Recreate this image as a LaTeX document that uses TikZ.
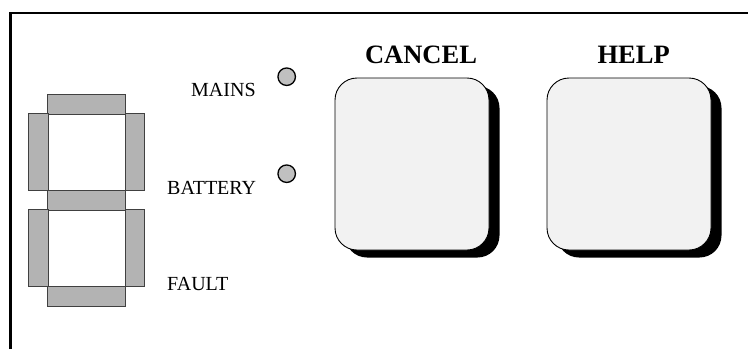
\documentclass[tikz,border=0pt]{standalone}
\usepackage{fontspec}
\setmainfont{Liberation Serif}
\begin{document}
\begin{tikzpicture}[x=1pt,y=-1pt,
  seg/.style={fill=segfill, draw=black!75, line width=0.7pt},
  led/.style={circle, minimum size=17.5pt, inner sep=0pt, fill=ledfill, draw=black, line width=1.3pt},
  lbl/.style={font=\fontsize{20}{22}\selectfont, inner sep=0pt},
  btnlbl/.style={font=\fontsize{26.5}{30}\selectfont\bfseries, inner sep=0pt},
  btn/.style={fill=btnfill, draw=black, line width=0.9pt, rounded corners=22pt},
  shadow/.style={fill=black, rounded corners=22pt}]
\definecolor{segfill}{HTML}{B3B3B3}
\definecolor{ledfill}{HTML}{C0C0C0}
\definecolor{btnfill}{HTML}{F2F2F2}
\useasboundingbox (0,0) rectangle (748,349);
% frame
\draw[line width=2.2pt] (10.5,349) -- (10.5,13) -- (748,13);
% seven segment display
\draw[seg] (47.5,94) rectangle (125,114);
\draw[seg] (28,113.5) rectangle (48,190.5);
\draw[seg] (125,113.5) rectangle (144,190.5);
\draw[seg] (47.5,190) rectangle (125,210);
\draw[seg] (28,209.5) rectangle (48,286.5);
\draw[seg] (125,209.5) rectangle (144,286.5);
\draw[seg] (47.5,286) rectangle (125,306);
% LEDs
\node[led] (mainsled) at (286.7,76.7) {};
\node[led] (battled) at (286.7,173.7) {};
% labels
\node[lbl, anchor=base west] (mains) at (191,96.5) {MAINS};
\node[lbl, anchor=base west] (battery) at (167,194) {BATTERY};
\node[lbl, anchor=base west] (fault) at (167,290.5) {FAULT};
% buttons
\fill[shadow] (345,86) rectangle (499.5,257.5);
\draw[btn] (335,78) rectangle (489,250);
\fill[shadow] (557,86) rectangle (721.5,257.5);
\draw[btn] (547,78) rectangle (711,250);
\node[btnlbl, anchor=base] (cancel) at (421,63) {CANCEL};
\node[btnlbl, anchor=base] (help) at (633.7,63) {HELP};
\end{tikzpicture}
\end{document}
